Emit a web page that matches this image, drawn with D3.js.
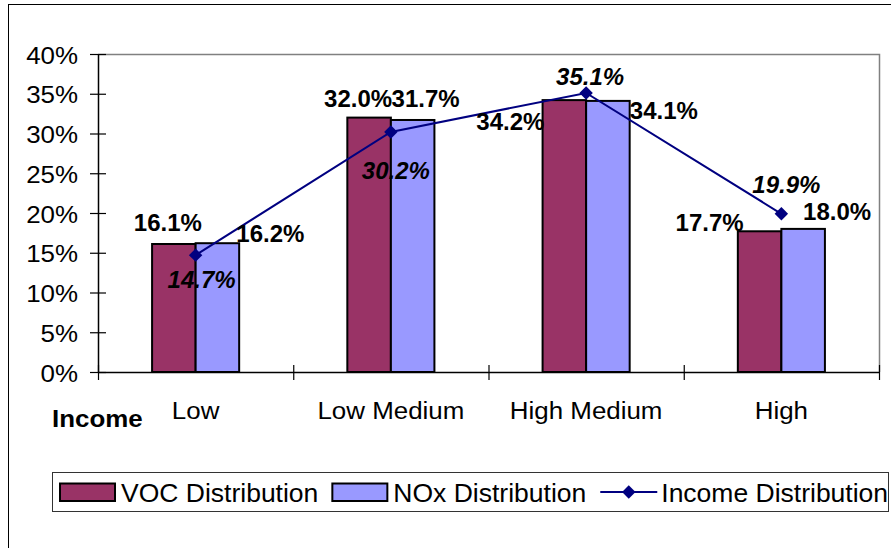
<!DOCTYPE html>
<html>
<head>
<meta charset="utf-8">
<script src="https://cdn.jsdelivr.net/npm/d3@7"></script>
<style>
  html, body { margin: 0; padding: 0; background: #fff; }
  svg { display: block; }
  text { font-family: Arial, "Liberation Sans", sans-serif; fill: #000; }
</style>
</head>
<body>
<svg id="chart" width="891" height="548"></svg>
<script>
// Emission and income shares by income group (percent)
const categories   = ["Low", "Low Medium", "High Medium", "High"];
const vocValues    = [16.1, 32.0, 34.2, 17.7];
const noxValues    = [16.2, 31.7, 34.1, 18.0];
const incomeValues = [14.7, 30.2, 35.1, 19.9];
const yTicks       = [0, 5, 10, 15, 20, 25, 30, 35, 40];
const seriesNames  = ["VOC Distribution", "NOx Distribution", "Income Distribution"];
const axisTitle    = "Income";

const colors = { voc: "#993366", nox: "#9999FF", income: "#000080" };

// Label nudges relative to the mark they describe (layout only)
const vocLabelShift    = [[-6, -22], [-11, -19], [-54, 21], [-50, -9]];
const noxLabelShift    = [[53, -10], [13, -22], [56, 9], [34, -18]];
const incomeLabelShift = [[6, 24], [5, 38], [4, -17], [5, -29]];

const svg = d3.select("#chart");
const plot = { left: 98, right: 879, top: 54, bottom: 372 };
const stretch = 1.08;

// outer chart frame (extends past the visible area on the right/bottom)
svg.append("rect")
  .attr("x", 8.5).attr("y", 4.5).attr("width", 1200).attr("height", 1200)
  .attr("fill", "none").attr("stroke", "#000").attr("stroke-width", 1);

const x0 = d3.scaleBand().domain(categories)
  .range([plot.left, plot.right]).paddingInner(0.554).paddingOuter(0.277);
const x1 = d3.scaleBand().domain(["voc", "nox"]).range([0, x0.bandwidth()]);
const y = d3.scaleLinear().domain([0, 40]).range([plot.bottom, plot.top]);
const xEdge = d3.scaleLinear().domain([0, categories.length]).range([plot.left, plot.right]);
const cx = c => x0(c) + x0.bandwidth() / 2;

// plot area border (grey top and right)
svg.append("path")
  .attr("d", `M${plot.left},${plot.top + 0.5}H${plot.right + 0.5}V${plot.bottom}`)
  .attr("fill", "none").attr("stroke", "#808080").attr("stroke-width", 1.5);

// bars
const bars = svg.append("g");
categories.forEach((c, i) => {
  [["voc", vocValues[i]], ["nox", noxValues[i]]].forEach(([k, v]) => {
    bars.append("rect")
      .attr("x", x0(c) + x1(k))
      .attr("y", y(v))
      .attr("width", x1.bandwidth())
      .attr("height", y(0) - y(v))
      .attr("fill", colors[k])
      .attr("stroke", "#000").attr("stroke-width", 2);
  });
});

// y axis with crossing ticks
const yAxis = svg.append("g").attr("transform", `translate(${plot.left},0)`)
  .call(d3.axisLeft(y).tickValues(yTicks).tickFormat(d => d + "%").tickSizeOuter(0).tickPadding(20));
yAxis.select(".domain").attr("stroke", "#000").attr("stroke-width", 1.5);
yAxis.selectAll(".tick line").attr("x1", -8).attr("x2", 8).attr("stroke", "#000").attr("stroke-width", 1.2);
yAxis.selectAll(".tick text")
  .attr("font-size", 24).attr("font-family", "Arial, 'Liberation Sans', sans-serif")
  .attr("x", null).attr("dy", null)
  .attr("transform", "translate(-20,9) scale(" + stretch + ",1)");
yAxis.selectAll(".tick text").attr("text-anchor", "end").attr("fill", "#000");

// x axis: boundary ticks crossing the baseline
const xAxis = svg.append("g").attr("transform", `translate(0,${plot.bottom})`)
  .call(d3.axisBottom(xEdge).tickValues(d3.range(categories.length + 1)).tickFormat("").tickSizeOuter(0));
xAxis.select(".domain").attr("stroke", "#000").attr("stroke-width", 1.5);
xAxis.selectAll(".tick line").attr("y1", -7).attr("y2", 8).attr("stroke", "#000").attr("stroke-width", 1.2);

// category labels
const xLabels = svg.append("g").attr("transform", `translate(0,${plot.bottom})`)
  .call(d3.axisBottom(x0).tickSize(0).tickPadding(0));
xLabels.select(".domain").remove();
xLabels.selectAll(".tick text")
  .attr("font-size", 24).attr("font-family", "Arial, 'Liberation Sans', sans-serif")
  .attr("fill", "#000").attr("y", null).attr("dy", null)
  .attr("transform", "translate(0,47) scale(" + stretch + ",1)");

// axis title
svg.append("text")
  .attr("transform", `translate(52,427) scale(${stretch},1)`)
  .attr("font-size", 24).attr("font-weight", "bold").text(axisTitle);

// income line + diamond markers
const line = d3.line().x((d, i) => cx(categories[i])).y(d => y(d));
svg.append("path").datum(incomeValues)
  .attr("d", line).attr("fill", "none")
  .attr("stroke", colors.income).attr("stroke-width", 2);
const diamond = d3.symbol().type(d3.symbolDiamond2).size(115);
svg.append("g").selectAll("path").data(incomeValues).join("path")
  .attr("d", diamond)
  .attr("transform", (d, i) => `translate(${cx(categories[i])},${y(d)})`)
  .attr("fill", colors.income);

// value labels
const labels = svg.append("g").attr("font-size", 24).attr("font-weight", "bold").attr("text-anchor", "middle");
categories.forEach((c, i) => {
  const vx = x0(c) + x1("voc") + x1.bandwidth() / 2;
  const nx = x0(c) + x1("nox") + x1.bandwidth() / 2;
  labels.append("text")
    .attr("x", vx + vocLabelShift[i][0]).attr("y", y(vocValues[i]) + vocLabelShift[i][1] + 8.6)
    .text(vocValues[i].toFixed(1) + "%");
  labels.append("text")
    .attr("x", nx + noxLabelShift[i][0]).attr("y", y(noxValues[i]) + noxLabelShift[i][1] + 8.6)
    .text(noxValues[i].toFixed(1) + "%");
  labels.append("text")
    .attr("x", cx(c) + incomeLabelShift[i][0]).attr("y", y(incomeValues[i]) + incomeLabelShift[i][1] + 8.6)
    .attr("font-style", "italic")
    .text(incomeValues[i].toFixed(1) + "%");
});

// legend
const legend = svg.append("g");
legend.append("rect")
  .attr("x", 52.5).attr("y", 472.5).attr("width", 836).attr("height", 39)
  .attr("fill", "#fff").attr("stroke", "#333").attr("stroke-width", 1);
let lx = 60;
const ly = 492;
seriesNames.forEach((name, i) => {
  if (i < 2) {
    legend.append("rect")
      .attr("x", lx).attr("y", ly - 8.5).attr("width", 55).attr("height", 17.5)
      .attr("fill", i === 0 ? colors.voc : colors.nox)
      .attr("stroke", "#000").attr("stroke-width", 2);
  } else {
    legend.append("line")
      .attr("x1", lx).attr("x2", lx + 57).attr("y1", ly).attr("y2", ly)
      .attr("stroke", colors.income).attr("stroke-width", 2);
    legend.append("path").attr("d", diamond)
      .attr("transform", `translate(${lx + 28.5},${ly})`).attr("fill", colors.income);
  }
  const t = legend.append("text")
    .attr("x", lx + 61).attr("y", ly + 9.5)
    .attr("font-size", 26.5).text(name);
  lx = lx + 61 + t.node().getComputedTextLength() + 14;
});
</script>
</body>
</html>
